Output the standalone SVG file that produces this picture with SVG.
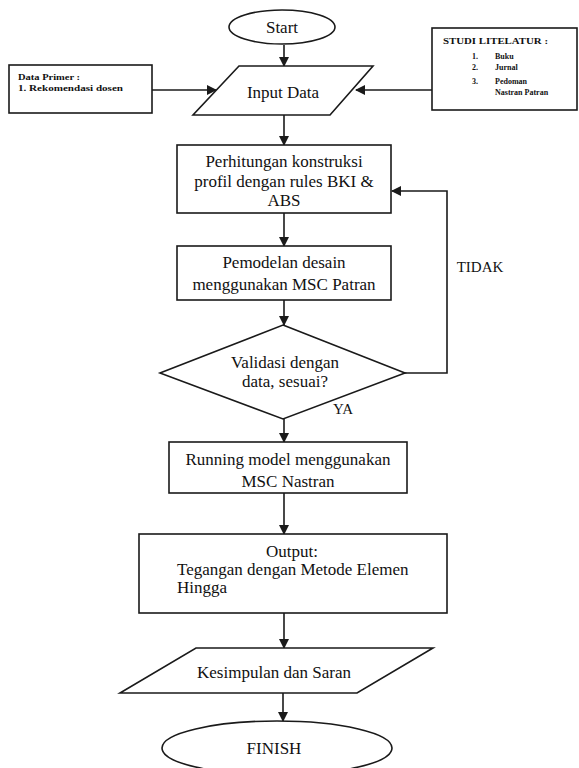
<svg xmlns="http://www.w3.org/2000/svg" width="579" height="768" viewBox="0 0 579 768">
<style>
.s{fill:#fff;stroke:#1a1a1a;stroke-width:1.6}
.t{font-family:"Liberation Serif","DejaVu Serif",serif;font-size:17px;fill:#111;text-anchor:middle}
.sm{font-family:"Liberation Serif","DejaVu Serif",serif;font-size:8px;fill:#111;font-weight:bold}
.c{fill:none;stroke:#1a1a1a;stroke-width:1.6}
</style>
<defs>
<marker id="a" markerWidth="10" markerHeight="10" refX="9" refY="5" orient="auto" markerUnits="userSpaceOnUse">
<path d="M0,0 L10,5 L0,10 Z" fill="#1a1a1a"/>
</marker>
</defs>
<rect width="579" height="768" fill="#fff"/>
<g id="connectors">
<line class="c" x1="284" y1="45" x2="284" y2="66" marker-end="url(#a)"/>
<line class="c" x1="152" y1="90" x2="216" y2="90" marker-end="url(#a)"/>
<line class="c" x1="432" y1="90" x2="356" y2="90" marker-end="url(#a)"/>
<line class="c" x1="284" y1="115" x2="284" y2="145" marker-end="url(#a)"/>
<line class="c" x1="284" y1="213" x2="284" y2="246" marker-end="url(#a)"/>
<line class="c" x1="284" y1="300" x2="284" y2="325" marker-end="url(#a)"/>
<polyline class="c" points="405,373 447,373 447,191 392,191" marker-end="url(#a)"/>
<line class="c" x1="284" y1="419" x2="284" y2="442" marker-end="url(#a)"/>
<line class="c" x1="284" y1="493" x2="284" y2="534" marker-end="url(#a)"/>
<line class="c" x1="284" y1="613" x2="284" y2="648" marker-end="url(#a)"/>
<line class="c" x1="283" y1="693" x2="283" y2="721" marker-end="url(#a)"/>
<text class="t" x="480" y="272" style="font-size:15px">TIDAK</text>
<text class="t" x="343" y="414" style="font-size:15px">YA</text>
</g>
<g id="start">
<ellipse class="s" cx="282" cy="27" rx="53" ry="17"/>
<text class="t" x="282" y="33">Start</text>
</g>
<g id="data-primer">
<rect class="s" x="9" y="65" width="143" height="48"/>
<text class="sm" x="18" y="80" textLength="62" lengthAdjust="spacingAndGlyphs">Data Primer :</text>
<text class="sm" x="18" y="91" textLength="105" lengthAdjust="spacingAndGlyphs">1.  Rekomendasi dosen</text>
</g>
<g id="studi-literatur">
<rect class="s" x="432" y="28" width="145" height="82"/>
<text class="sm" x="443" y="44" textLength="105" lengthAdjust="spacingAndGlyphs">STUDI  LITELATUR :</text>
<text class="sm" x="472" y="59">1.</text>
<text class="sm" x="495" y="59">Buku</text>
<text class="sm" x="472" y="70">2.</text>
<text class="sm" x="495" y="70">Jurnal</text>
<text class="sm" x="472" y="84">3.</text>
<text class="sm" x="495" y="84">Pedoman</text>
<text class="sm" x="495" y="95">Nastran Patran</text>
</g>
<g id="input-data">
<polygon class="s" points="239,66 373,66 330,115 193,115"/>
<text class="t" x="283" y="98">Input Data</text>
</g>
<g id="perhitungan">
<rect class="s" x="177" y="145" width="214" height="68"/>
<text class="t" x="284" y="167">Perhitungan konstruksi</text>
<text class="t" x="284" y="187">profil dengan rules BKI &amp;</text>
<text class="t" x="284" y="206">ABS</text>
</g>
<g id="pemodelan">
<rect class="s" x="177" y="246" width="214" height="54"/>
<text class="t" x="284" y="268">Pemodelan desain</text>
<text class="t" x="284" y="290">menggunakan MSC Patran</text>
</g>
<g id="validasi">
<polygon class="s" points="283,325 405,373 283,419 160,373"/>
<text class="t" x="285" y="368">Validasi dengan</text>
<text class="t" x="285" y="387">data, sesuai?</text>
</g>
<g id="running">
<rect class="s" x="169" y="442" width="238" height="51"/>
<text class="t" x="288" y="465">Running model menggunakan</text>
<text class="t" x="288" y="487">MSC Nastran</text>
</g>
<g id="output">
<rect class="s" x="139" y="534" width="308" height="79"/>
<text class="t" x="292" y="557">Output:</text>
<text class="t" x="177" y="575" style="text-anchor:start">Tegangan dengan Metode Elemen</text>
<text class="t" x="177" y="593" style="text-anchor:start">Hingga</text>
</g>
<g id="kesimpulan">
<polygon class="s" points="196,648 433,648 357,693 120,693"/>
<text class="t" x="274" y="678">Kesimpulan dan Saran</text>
</g>
<g id="finish">
<ellipse class="s" cx="277" cy="748" rx="115" ry="27"/>
<text class="t" x="274" y="754">FINISH</text>
</g>
</svg>
